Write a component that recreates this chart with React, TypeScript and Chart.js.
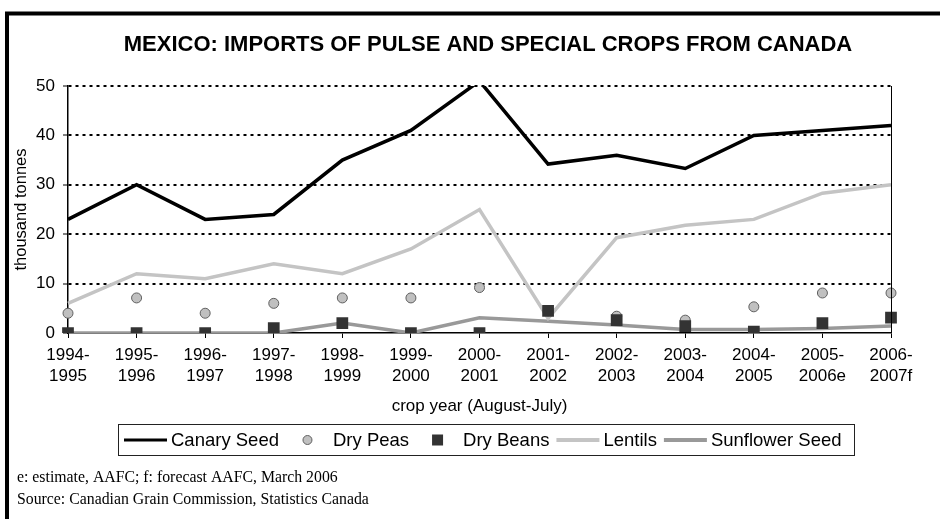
import React, { useEffect, useRef } from "react";
import { Chart, registerables } from "chart.js";

Chart.register(...registerables);

const categories: string[][] = [
  ["1994-", "1995"], ["1995-", "1996"], ["1996-", "1997"], ["1997-", "1998"],
  ["1998-", "1999"], ["1999-", "2000"], ["2000-", "2001"], ["2001-", "2002"],
  ["2002-", "2003"], ["2003-", "2004"], ["2004-", "2005"], ["2005-", "2006e"],
  ["2006-", "2007f"],
];

const canarySeed = [23, 30, 23, 24, 35, 41, 51, 34.2, 36, 33.3, 40, 41, 42];
const dryPeas = [4, 7.1, 4, 6, 7.1, 7.1, 9.2, 4.5, 3.4, 2.6, 5.3, 8.1, 8.1];
const dryBeans = [0, 0, 0, 1, 2, 0, 0, 4.5, 2.6, 1.4, 0.3, 2, 3.1];
const lentils = [6, 12, 11, 14, 12, 17, 25, 3, 19.3, 21.8, 23, 28.3, 30];
const sunflowerSeed = [0, 0, 0, 0, 2, 0, 3.1, 2.4, 1.6, 0.7, 0.7, 0.9, 1.4];

const titleText = "MEXICO: IMPORTS OF PULSE AND SPECIAL CROPS FROM CANADA";
const yTitle = "thousand tonnes";
const xTitle = "crop year (August-July)";
const footnotes = [
  "e: estimate, AAFC; f: forecast AAFC, March 2006",
  "Source: Canadian Grain Commission, Statistics Canada",
];

const SANS = "'Liberation Sans', Arial, Helvetica, sans-serif";
const SERIF = "'Liberation Serif', 'Times New Roman', serif";

const decorPlugin = {
  id: "decor",
  afterDraw(chart: any) {
    const ctx: CanvasRenderingContext2D = chart.ctx;
    const area = chart.chartArea;
    ctx.save();
    // outer frame
    ctx.strokeStyle = "#000";
    ctx.lineWidth = 4;
    ctx.strokeRect(7, 13.5, 960, 540);
    // right border of plot area
    ctx.lineWidth = 1;
    ctx.beginPath();
    ctx.moveTo(Math.round(area.right) + 0.5, area.top);
    ctx.lineTo(Math.round(area.right) + 0.5, area.bottom);
    ctx.stroke();
    // title
    ctx.fillStyle = "#000";
    ctx.font = `bold 22px ${SANS}`;
    ctx.textAlign = "center";
    ctx.textBaseline = "middle";
    ctx.fillText(titleText, 488, 45);

    // legend
    const items = chart.data.datasets.map((d: any) => d);
    ctx.font = `18.5px ${SANS}`;
    ctx.textAlign = "left";
    let x = 124;
    const cy = 440;
    const symW = 43;
    const positions: any[] = [];
    items.forEach((d: any) => {
      const tw = ctx.measureText(d.label).width;
      positions.push({ d, x, tw });
      x += symW + 4 + tw + 7;
    });
    const boxLeft = 118;
    const boxRight = Math.max(854, x - 7 + 8);
    ctx.lineWidth = 1;
    ctx.strokeStyle = "#222";
    ctx.strokeRect(boxLeft + 0.5, 424.5, boxRight - boxLeft, 31);
    positions.forEach(({ d, x: sx }) => {
      if (d.showLine === false) {
        const mx = sx + symW / 2;
        ctx.beginPath();
        if (d.pointStyle === "circle") {
          ctx.arc(mx, cy, 4.5, 0, Math.PI * 2);
          ctx.fillStyle = d.backgroundColor;
          ctx.fill();
          ctx.lineWidth = 1;
          ctx.strokeStyle = d.borderColor;
          ctx.stroke();
        } else {
          ctx.fillStyle = d.backgroundColor;
          ctx.fillRect(mx - 5.5, cy - 5.5, 11, 11);
        }
      } else {
        ctx.beginPath();
        ctx.moveTo(sx, cy);
        ctx.lineTo(sx + symW, cy);
        ctx.lineWidth = d.legendWidth || 3;
        ctx.strokeStyle = d.borderColor;
        ctx.stroke();
      }
      ctx.fillStyle = "#000";
      ctx.textBaseline = "middle";
      ctx.fillText(d.label, sx + symW + 4, cy + 1);
    });

    // footnotes
    ctx.font = `15.8px ${SERIF}`;
    ctx.fillStyle = "#000";
    ctx.textBaseline = "middle";
    ctx.fillText(footnotes[0], 17, 478);
    ctx.fillText(footnotes[1], 17, 500);
    ctx.restore();
  },
};

export default function App() {
  const ref = useRef<HTMLCanvasElement | null>(null);
  useEffect(() => {
    document.body.style.margin = "0";
    const canvas = ref.current;
    if (!canvas) return;
    Chart.defaults.font.family = SANS;
    Chart.defaults.color = "#000";
    const chart = new Chart(canvas, {
      type: "line",
      data: {
        labels: categories,
        datasets: [
          {
            label: "Canary Seed",
            data: canarySeed,
            borderColor: "#000",
            backgroundColor: "#000",
            borderWidth: 3.5,
            pointRadius: 0,
            tension: 0,
            order: 1,
          },
          {
            label: "Dry Peas",
            data: dryPeas,
            showLine: false,
            pointStyle: "circle",
            pointRadius: 5,
            backgroundColor: "#c0c0c0",
            borderColor: "#606060",
            pointBorderWidth: 1,
            order: 3,
          },
          {
            label: "Dry Beans",
            data: dryBeans,
            showLine: false,
            pointStyle: "rect",
            pointRadius: 8.3,
            backgroundColor: "#333333",
            borderColor: "#333333",
            pointBorderWidth: 0,
            order: 2,
          },
          {
            label: "Lentils",
            data: lentils,
            borderColor: "#c4c4c4",
            backgroundColor: "#c4c4c4",
            borderWidth: 3.5,
            pointRadius: 0,
            tension: 0,
            order: 4,
            legendWidth: 4,
          },
          {
            label: "Sunflower Seed",
            data: sunflowerSeed,
            borderColor: "#999999",
            backgroundColor: "#999999",
            borderWidth: 3.5,
            pointRadius: 0,
            tension: 0,
            order: 5,
            legendWidth: 4,
          },
        ] as any,
      },
      options: {
        responsive: false,
        animation: false,
        layout: { padding: { left: 8, top: 86, right: 49, bottom: 98 } },
        plugins: {
          legend: { display: false },
          title: { display: false },
          tooltip: { enabled: false },
        },
        scales: {
          x: {
            offset: false,
            grid: {
              drawOnChartArea: false,
              drawTicks: true,
              tickLength: 5,
              tickColor: "#000",
              tickWidth: 1,
            },
            border: { display: true, color: "#000", width: 1.5 },
            ticks: {
              font: { size: 17, lineHeight: 1.23 },
              color: "#000",
              padding: 7,
              maxRotation: 0,
              autoSkip: false,
            },
            title: {
              display: true,
              text: xTitle,
              font: { size: 17 },
              color: "#000",
              padding: { top: 4, bottom: 4 },
            },
            afterFit: (s: any) => {
              s.height = 88;
            },
          },
          y: {
            min: 0,
            max: 50,
            ticks: {
              stepSize: 10,
              font: { size: 17 },
              color: "#000",
              padding: 8,
            },
            grid: {
              color: (c: any) => (c.tick && c.tick.value === 0 ? "rgba(0,0,0,0)" : "#000"),
              lineWidth: 2,
              tickLength: 5,
              tickColor: "#000",
              tickWidth: 1,
              tickBorderDash: [],
            },
            border: { display: true, color: "#000", width: 1.5, dash: [3, 4] },
            title: {
              display: true,
              text: yTitle,
              font: { size: 16.5 },
              color: "#000",
              padding: { top: 4, bottom: 4 },
            },
            afterFit: (s: any) => {
              s.width = 60;
            },
          },
        },
      } as any,
      plugins: [decorPlugin],
    });
    return () => chart.destroy();
  }, []);
  return (
    <div style={{ width: 940, height: 519, background: "#fff" }}>
      <canvas ref={ref} width={940} height={519} style={{ display: "block" }} />
    </div>
  );
}
